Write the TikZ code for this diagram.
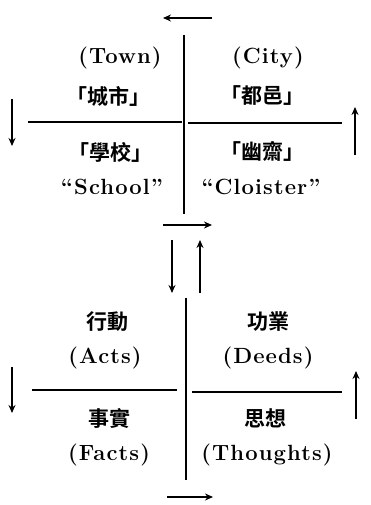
\documentclass[tikz,border=0pt]{standalone}
\usepackage{fontspec}
\newfontfamily\lat{Latin Modern Roman}[LetterSpace=5]
\newfontfamily\cjk{Noto Sans CJK TC}[BoldFont={* Bold}]
\usetikzlibrary{arrows.meta}
\tikzset{
  lbl/.style={font=\fontsize{22}{25}\lat\bfseries, inner sep=0pt},
  zh/.style={font=\fontsize{21}{24}\selectfont\cjk\bfseries, inner sep=0pt},
  rule/.style={line width=1.2pt},
  arr/.style={line width=2pt, -{Stealth[length=8pt,width=7pt]}},
}
\begin{document}
\begin{tikzpicture}[x=1pt,y=-1pt]
\useasboundingbox (0,0) rectangle (370,505);
% ---------- top block ----------
\coordinate (tA1) at (212,18); \coordinate (tA2) at (163,18);
\draw[arr] (tA1) -- (tA2);
\coordinate (v1a) at (184,35); \coordinate (v1b) at (184,214);
\draw[rule] (v1a) -- (v1b);
\coordinate (h1a) at (28,122); \coordinate (h1b) at (182,122);
\coordinate (h1c) at (188,123); \coordinate (h1d) at (342,123);
\draw[rule] (h1a) -- (h1b);
\draw[rule] (h1c) -- (h1d);
\coordinate (l1a) at (12,99); \coordinate (l1b) at (12,146);
\draw[arr] (l1a) -- (l1b);
\coordinate (r1a) at (355,155); \coordinate (r1b) at (355,107);
\draw[arr] (r1a) -- (r1b);
\node[lbl] (town) at (120,58) {(Town)};
\node[zh] (chengshi) at (108,96) {「城市」};
\node[lbl] (city) at (268,58) {(City)};
\node[zh] (duyi) at (262,96) {「都邑」};
\node[zh] (xuexiao) at (110,152) {「學校」};
\node[lbl] (school) at (112,187) {“School”};
\node[zh] (youzhai) at (262,152) {「幽齋」};
\node[lbl] (cloister) at (261,187) {“Cloister”};
\coordinate (bA1) at (163,225); \coordinate (bA2) at (212,225);
\draw[arr] (bA1) -- (bA2);
% ---------- middle arrows ----------
\coordinate (m1a) at (172,240); \coordinate (m1b) at (172,293);
\draw[arr] (m1a) -- (m1b);
\coordinate (m2a) at (200,293); \coordinate (m2b) at (200,240);
\draw[arr] (m2a) -- (m2b);
% ---------- bottom block ----------
\coordinate (v2a) at (186,298); \coordinate (v2b) at (186,480);
\draw[rule] (v2a) -- (v2b);
\coordinate (h2a) at (32,390); \coordinate (h2b) at (177,390);
\coordinate (h2c) at (192,392); \coordinate (h2d) at (342,392);
\draw[rule] (h2a) -- (h2b);
\draw[rule] (h2c) -- (h2d);
\coordinate (l2a) at (12,367); \coordinate (l2b) at (12,413);
\draw[arr] (l2a) -- (l2b);
\coordinate (r2a) at (356,419); \coordinate (r2b) at (356,371);
\draw[arr] (r2a) -- (r2b);
\node[zh] (xingdong) at (107,322) {行動};
\node[lbl] (acts) at (105,358) {(Acts)};
\node[zh] (gongye) at (268,322) {功業};
\node[lbl] (deeds) at (268,358) {(Deeds)};
\node[zh] (shishi) at (109,418) {事實};
\node[lbl] (facts) at (109,455) {(Facts)};
\node[zh] (sixiang) at (265,418) {思想};
\node[lbl] (thoughts) at (267,455) {(Thoughts)};
\coordinate (eA1) at (167,497); \coordinate (eA2) at (213,497);
\draw[arr] (eA1) -- (eA2);
\end{tikzpicture}
\end{document}
